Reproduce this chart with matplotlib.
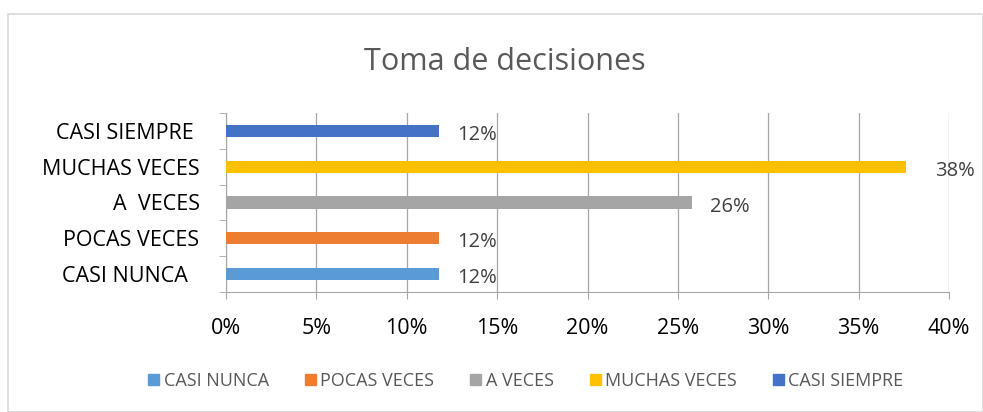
import matplotlib.pyplot as plt
from matplotlib.patches import Rectangle

plt.rcParams['font.family'] = ['Open Sans', 'DejaVu Sans']

# data (bottom to top)
categories = ["CASI NUNCA", "POCAS VECES", "A  VECES", "MUCHAS VECES", "CASI SIEMPRE"]
tick_labels = ["CASI NUNCA  ", "POCAS VECES", "A  VECES", "MUCHAS VECES", "CASI SIEMPRE "]
legend_labels = ["CASI NUNCA", "POCAS VECES", "A VECES", "MUCHAS VECES", "CASI SIEMPRE"]
values = [11.8, 11.8, 25.8, 37.6, 11.8]
value_labels = ["12%", "12%", "26%", "38%", "12%"]
colors = ["#5B9BD5", "#ED7D31", "#A5A5A5", "#FFC000", "#4472C4"]

W, H = 983, 412
fig = plt.figure(figsize=(W / 100, H / 100), dpi=100)

# outer chart border
fig.patches.append(Rectangle((8 / W, 0), 1 - 8 / W, 1 - 14 / H, transform=fig.transFigure,
                             fill=False, edgecolor="#d9d9d9", linewidth=1.2))

ax = fig.add_axes([226 / W, 1 - 292 / H, (949 - 226) / W, (292 - 113) / H])

bars = ax.barh(range(len(categories)), values, height=0.34, color=colors, zorder=3)

for i, (v, lab) in enumerate(zip(values, value_labels)):
    off = 13 if v < max(values) else 21
    ax.annotate(lab, (v, i), xytext=(off, -3), textcoords="offset points",
                ha="left", va="center", fontsize=14.5, color="#404040", zorder=4)

ax.set_xlim(0, 40)
ax.set_ylim(-0.5, len(categories) - 0.5)
ax.set_xticks(range(0, 41, 5))
ax.set_xticklabels([f"{t}%" for t in range(0, 41, 5)], fontsize=15.5, color="black")
ax.set_yticks(range(len(categories)))
ax.set_yticklabels(tick_labels, fontsize=15.5, color="black")
ax.tick_params(axis="y", length=0, pad=19)
ax.tick_params(axis="x", length=5, color="#a6a6a6", pad=14)

# minor ticks on y between categories
ax.set_yticks([i - 0.5 for i in range(len(categories) + 1)], minor=True)
ax.tick_params(axis="y", which="minor", length=5, color="#a6a6a6")

ax.grid(axis="x", color="#a6a6a6", linewidth=0.9, zorder=0)
for s in ["top", "right"]:
    ax.spines[s].set_visible(False)
ax.spines["left"].set_color("#a6a6a6")
ax.spines["bottom"].set_color("#a6a6a6")

fig.text(505 / W, 1 - 62 / H, "Toma de decisiones", ha="center", va="center",
         fontsize=22, color="#595959")

handles = [Rectangle((0, 0), 1, 1, color=c) for c in colors]
fig.legend(handles, legend_labels, loc="center", bbox_to_anchor=(526 / W, 1 - 381 / H),
           ncol=5, frameon=False, fontsize=13, labelcolor="#595959",
           handlelength=0.6, handleheight=0.6, handletextpad=0.25, columnspacing=2.0)

fig.savefig("out.png", dpi=100)
